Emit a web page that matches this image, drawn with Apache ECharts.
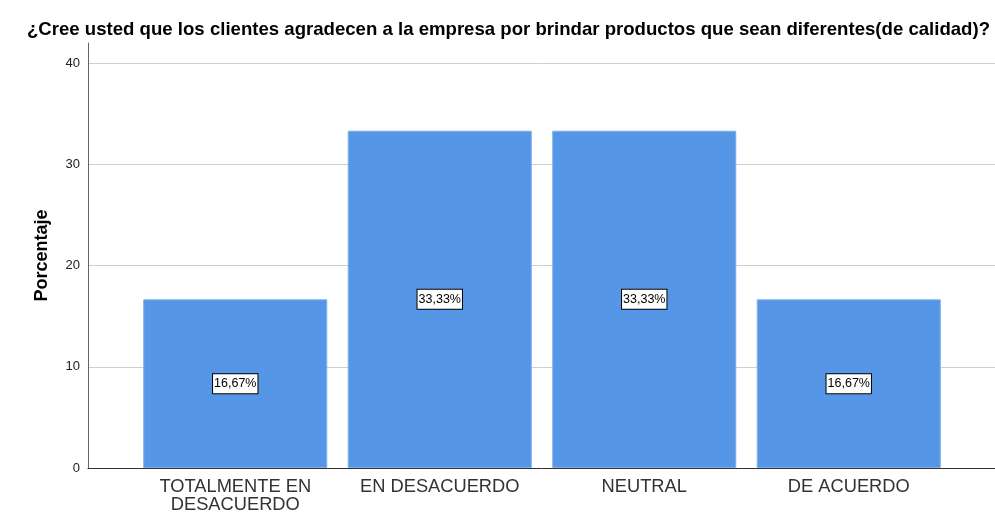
<!DOCTYPE html>
<html>
<head>
<meta charset="utf-8">
<script src="https://cdn.jsdelivr.net/npm/echarts@6/dist/echarts.min.js"></script>
<style>
  html, body { margin: 0; padding: 0; background: #fff; }
  #chart { width: 995px; height: 524px; }
</style>
</head>
<body>
<div id="chart"></div>
<script>
const titleText = '¿Cree usted que los clientes agradecen a la empresa por brindar productos que sean diferentes(de calidad)?'
const categories = ['TOTALMENTE EN\nDESACUERDO', 'EN DESACUERDO', 'NEUTRAL', 'DE ACUERDO']
const porcentajes = [16.67, 33.33, 33.33, 16.67]
const etiquetas = ['16,67%', '33,33%', '33,33%', '16,67%']
const yMax = 42
const yInterval = 10

const chart = echarts.init(document.getElementById('chart'))

const gridTop = 43
const gridBottom = 56

chart.setOption({
  animation: false,
  textStyle: { fontFamily: 'Liberation Sans, Arial, sans-serif' },
  title: {
    text: titleText,
    left: 22,
    top: 15,
    textStyle: { fontSize: 18.6, fontWeight: 'bold', color: '#000' }
  },
  grid: [
    // axes frame
    { left: 88, right: 0, top: gridTop, bottom: gridBottom },
    // bars
    { left: 133, right: 44, top: gridTop, bottom: gridBottom }
  ],
  xAxis: [
    {
      type: 'category',
      gridIndex: 0,
      data: [''],
      axisLine: { show: true, lineStyle: { color: '#333', width: 1 } },
      axisTick: { show: false },
      axisLabel: { show: false }
    },
    {
      type: 'category',
      gridIndex: 1,
      data: categories,
      axisLine: { show: false },
      axisTick: { show: false },
      axisLabel: {
        interval: 0,
        color: '#333',
        fontSize: 18.3,
        margin: 10,
        lineHeight: 18
      }
    }
  ],
  yAxis: [
    {
      type: 'value',
      gridIndex: 0,
      min: 0,
      max: yMax,
      interval: yInterval,
      name: 'Porcentaje',
      nameLocation: 'middle',
      nameGap: 37,
      nameTextStyle: { fontSize: 18, fontWeight: 'bold', color: '#000' },
      axisLine: { show: true, lineStyle: { color: '#666', width: 1 } },
      axisTick: { show: false },
      axisLabel: {
        color: '#222',
        fontSize: 13,
        margin: 8,
        showMaxLabel: false
      },
      splitLine: {
        show: true,
        lineStyle: { color: ['#cfcfcf', '#cfcfcf', '#cfcfcf', '#cfcfcf', '#cfcfcf', 'rgba(0,0,0,0)'], width: 1 }
      }
    },
    {
      type: 'value',
      gridIndex: 1,
      min: 0,
      max: yMax,
      interval: yInterval,
      show: false
    }
  ],
  series: [
    {
      type: 'bar',
      xAxisIndex: 1,
      yAxisIndex: 1,
      data: porcentajes,
      barCategoryGap: '10%',
      itemStyle: {
        color: '#5596e6',
        borderColor: '#7fb0ee',
        borderWidth: 1
      },
      label: {
        show: true,
        position: 'inside',
        formatter: (p) => etiquetas[p.dataIndex],
        color: '#000',
        fontSize: 12.5,
        backgroundColor: '#fff',
        borderColor: '#000',
        borderWidth: 1,
        padding: [4, 1, 2, 1]
      }
    }
  ]
})

window.addEventListener('resize', () => {
  chart.resize()
})
</script>
</body>
</html>
